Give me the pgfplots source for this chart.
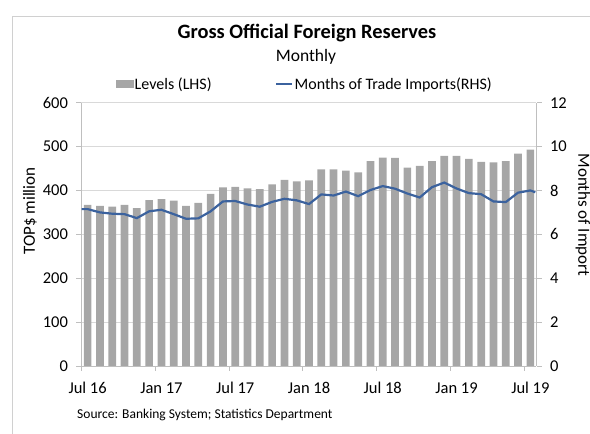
\documentclass[border=0pt]{standalone}
\usepackage{fontspec}
\setmainfont{Carlito}
\usepackage{pgfplots}
\pgfplotsset{compat=1.18}
\definecolor{barGray}{HTML}{A6A6A6}
\definecolor{lineBlue}{RGB}{59,98,158}
\definecolor{gridGray}{HTML}{D9D9D9}
\definecolor{axGray}{HTML}{BFBFBF}
\definecolor{frameGray}{HTML}{D0D0D0}
\begin{document}
\begin{tikzpicture}
\path[use as bounding box] (0,0) rectangle (590pt,434pt);
\begin{scope}
\clip (0,0) rectangle (590pt,434pt);
\draw[frameGray, line width=1.2pt] (12.3pt,-10pt) -- (12.3pt,417.3pt) -- (600pt,417.3pt);
\end{scope}
\begin{axis}[
  at={(81.5pt,68pt)}, anchor=south west, scale only axis,
  width=455pt, height=263.3pt,
  xmin=-0.5, xmax=36.5, ymin=0, ymax=600,
  axis x line*=bottom, axis y line*=left,
  axis line style={axGray, line width=0.8pt},
  ytick={0,100,...,600},
  ymajorgrids, grid style={gridGray, line width=0.8pt},
  xtick={-0.5,5.5,11.5,17.5,23.5,29.5,35.5},
  xticklabels={Jul 16,Jan 17,Jul 17,Jan 18,Jul 18,Jan 19,Jul 19},
  xticklabel style={xshift=6.15pt, yshift=-8pt},
  tick style={axGray, line width=0.8pt},
  tick align=outside, major tick length=5pt,
  tick label style={font=\fontsize{16.5}{18}\selectfont},
  yticklabel style={xshift=-5pt},
  /pgf/number format/assume math mode=true,
  ybar, bar width=7.7pt,
]
\addplot[fill=barGray, draw=none] coordinates {
(0,367) (1,365) (2,363) (3,367) (4,360) (5,378) (6,380) (7,377) (8,365) (9,372)
(10,392) (11,407) (12,408) (13,405) (14,403) (15,414) (16,424) (17,421) (18,423) (19,448)
(20,448) (21,445) (22,441) (23,467) (24,475) (25,474) (26,452) (27,456) (28,467) (29,479)
(30,479) (31,472) (32,465) (33,464) (34,467) (35,484) (36,493)
};
\end{axis}
\begin{axis}[
  at={(81.5pt,68pt)}, anchor=south west, scale only axis,
  width=455pt, height=263.3pt,
  xmin=-0.5, xmax=36.5, ymin=0, ymax=12,
  ytick={0,2,...,12},
  axis x line=none, axis y line*=right,
  axis line style={axGray, line width=0.8pt},
  tick style={axGray, line width=0.8pt},
  tick align=outside, major tick length=5pt,
  tick label style={font=\fontsize{16.5}{18}\selectfont},
  yticklabel style={xshift=5pt},
  /pgf/number format/assume math mode=true,
  legend columns=2,
  legend style={draw=none, fill=none, at={(0.075,1.071)}, anchor=west,
    font=\fontsize{16}{18}\selectfont, inner sep=0pt,
    nodes={inner sep=1.5pt},
    /tikz/every even column/.append style={column sep=62pt}},
]
\addlegendimage{legend image code/.code={\fill[barGray] (0pt,-3pt) rectangle (17pt,3.5pt);}}
\addlegendentry{Levels (LHS)}
\addplot[lineBlue, line width=2.2pt,
  legend image code/.code={\draw[lineBlue, line width=2pt] (0pt,0pt) -- (16pt,0pt);}] coordinates {
(-0.5,7.15) (0,7.15) (1,7.0) (2,6.94) (3,6.92) (4,6.74) (5,7.05) (6,7.12) (7,6.92) (8,6.71) (9,6.73)
(10,7.05) (11,7.5) (12,7.52) (13,7.36) (14,7.26) (15,7.48) (16,7.62) (17,7.55) (18,7.38) (19,7.82)
(20,7.77) (21,7.95) (22,7.74) (23,8.02) (24,8.2) (25,8.08) (26,7.86) (27,7.68) (28,8.15) (29,8.36)
(30,8.09) (31,7.88) (32,7.83) (33,7.5) (34,7.47) (35,7.9) (36,8.0) (36.4,7.92)
};
\addlegendentry{Months of Trade Imports(RHS)}
\end{axis}
\node[anchor=base, font=\fontsize{20.4}{23}\selectfont\bfseries] at (307pt,395pt) {Gross Official Foreign Reserves};
\node[anchor=base, font=\fontsize{17.5}{20}\selectfont] at (306pt,372.3pt) {Monthly};
\node[anchor=base west, inner sep=0pt, font=\fontsize{13.5}{15}\selectfont] at (77pt,15.7pt) {Source: Banking System; Statistics Department};
\node[rotate=90, font=\fontsize{17}{20}\selectfont] at (30pt,223pt) {TOP\$ million};
\node[rotate=-90, font=\fontsize{17}{20}\selectfont] at (583pt,219pt) {Months of Import};
\end{tikzpicture}
\end{document}
